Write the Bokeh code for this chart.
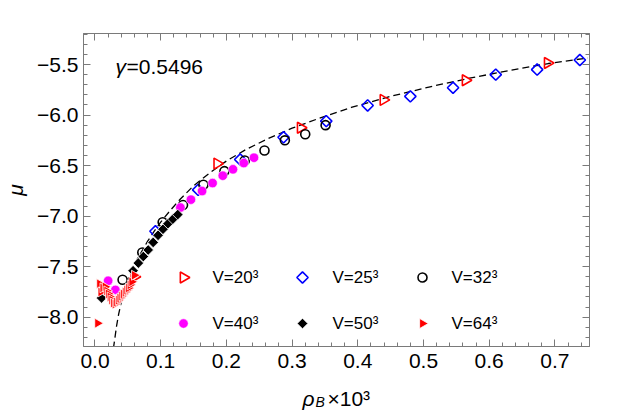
import numpy as np
from bokeh.plotting import figure
from bokeh.layouts import column
from bokeh.models import (Range1d, LinearAxis, SingleIntervalTicker, CustomJSTickFormatter, Label)
from bokeh.embed import file_html
from bokeh.resources import INLINE

# ---------------- data ----------------
fit_rho = [0.028, 0.030, 0.033, 0.036, 0.040, 0.045, 0.050, 0.056, 0.063, 0.071, 0.080, 0.090,
           0.100, 0.115, 0.130, 0.150, 0.175, 0.200, 0.230, 0.265, 0.300, 0.340, 0.390, 0.450,
           0.510, 0.570, 0.630, 0.690, 0.750]
fit_mu = [-8.31, -8.22, -8.08, -7.97, -7.85, -7.73, -7.63, -7.535, -7.44, -7.35, -7.25, -7.15,
          -7.06, -6.94, -6.83, -6.70, -6.57, -6.455, -6.34, -6.228, -6.13, -6.035, -5.925, -5.815,
          -5.72, -5.635, -5.56, -5.49, -5.435]

v20_rho = [0.060, 0.186, 0.313, 0.439, 0.564, 0.689]
v20_mu = [-7.60, -6.48, -6.125, -5.85, -5.655, -5.485]

v25_rho = [0.092, 0.157, 0.221, 0.287, 0.352, 0.415, 0.480, 0.545, 0.610, 0.673, 0.738]
v25_mu = [-7.15, -6.74, -6.44, -6.22, -6.06, -5.905, -5.815, -5.73, -5.60, -5.55, -5.455]

v32_rho = [0.042, 0.072, 0.103, 0.134, 0.165, 0.197, 0.228, 0.258, 0.289, 0.320, 0.351]
v32_mu = [-7.63, -7.36, -7.06, -6.89, -6.69, -6.555, -6.45, -6.35, -6.25, -6.19, -6.10]

v40_rho = [0.020, 0.031, 0.130, 0.146, 0.163, 0.179, 0.1945, 0.210, 0.2265, 0.242]
v40_mu = [-7.64, -7.73, -6.915, -6.837, -6.752, -6.673, -6.60, -6.537, -6.475, -6.422]

v50_rho = [0.010, 0.058, 0.066, 0.0735, 0.081, 0.0885, 0.096, 0.1035, 0.111, 0.1185, 0.126]
v50_mu = [-7.81, -7.54, -7.465, -7.40, -7.335, -7.26, -7.19, -7.13, -7.075, -7.03, -6.985]

v64_rho = [0.004, 0.007, 0.009, 0.012, 0.0155, 0.018, 0.0205, 0.023, 0.0256, 0.028, 0.0307,
           0.033, 0.0358, 0.038, 0.0408, 0.043, 0.046, 0.0485, 0.051, 0.0535, 0.056, 0.060]
v64_mu = [-8.06, -7.67, -7.75, -7.71, -7.70, -7.74, -7.77, -7.80, -7.83, -7.86, -7.87,
          -7.85, -7.83, -7.81, -7.79, -7.77, -7.75, -7.73, -7.71, -7.68, -7.65, -7.585]

legend_labels = ["V=20³", "V=25³", "V=32³", "V=40³", "V=50³", "V=64³"]
gamma_label = "γ"
gamma_value = "=0.5496"
x_ticks_interval = 0.1
y_ticks_interval = 0.5

# ---------------- layout constants (pixels) ----------------
W = 622
H_MAIN = 380
H_LAB = 34
FL, FT, FR, FB = 83, 33, 589, 346      # frame edges in page pixels
X0, X1 = -0.0175, 0.7527
Y0, Y1 = -8.29, -5.193
GRAY = "#7a7a7a"
FONT = "Liberation Sans"


def px2x(px):
    return X0 + (px - FL) * (X1 - X0) / (FR - FL)


def py2y(py):
    return Y1 - (py - FT) * (Y1 - Y0) / (FB - FT)


fig = figure(width=W, height=H_MAIN, output_backend="svg", toolbar_location=None,
             x_range=Range1d(X0, X1), y_range=Range1d(Y0, Y1),
             x_axis_location=None, y_axis_location=None,
             min_border_left=FL, min_border_right=W - FR, min_border_top=FT,
             min_border_bottom=H_MAIN - FB)
fig.xgrid.visible = False
fig.ygrid.visible = False
fig.outline_line_color = GRAY
fig.background_fill_color = "white"
fig.border_fill_color = "white"

fmt_code = """
var v = Math.abs(tick) < 1e-9 ? 0 : tick;
return v.toFixed(1).replace('-', '\u2212');
"""


def make_axis(interval, labels):
    return LinearAxis(ticker=SingleIntervalTicker(interval=interval, num_minor_ticks=5),
                      formatter=CustomJSTickFormatter(code=fmt_code if labels else "return '';"),
                      axis_line_color=GRAY, major_tick_line_color=GRAY, minor_tick_line_color=GRAY,
                      major_tick_in=7, major_tick_out=0, minor_tick_in=4, minor_tick_out=0,
                      major_label_text_font=FONT, major_label_text_font_size="21px",
                      major_label_text_color="black")


xb = make_axis(x_ticks_interval, True)
xb.major_label_standoff = 7
yl = make_axis(y_ticks_interval, True)
yl.major_label_standoff = 5
yl.axis_label = "μ"
yl.axis_label_text_font = FONT
yl.axis_label_text_font_size = "21px"
yl.axis_label_text_font_style = "italic"
yl.axis_label_text_color = "black"
yl.axis_label_standoff = 7
xt = make_axis(x_ticks_interval, False)
xt.major_label_standoff = 0
yr = make_axis(y_ticks_interval, False)
yr.major_label_standoff = 0
fig.add_layout(xb, "below")
fig.add_layout(yl, "left")
fig.add_layout(xt, "above")
fig.add_layout(yr, "right")

# fitted curve
fig.line(fit_rho, fit_mu, line_color="black", line_width=1.3, line_dash="7 4")

# marker styles per series
styles = [
    dict(marker="triangle", size=11, angle=-np.pi / 2, fill_color=None, line_color="#ff0000", line_width=1.6),
    dict(marker="square", size=8, angle=np.pi / 4, fill_color=None, line_color="#0000ff", line_width=1.6),
    dict(marker="circle", size=9, angle=0, fill_color=None, line_color="black", line_width=1.6),
    dict(marker="circle", size=9.5, angle=0, fill_color="#ff00ff", line_color="white", line_width=0.6),
    dict(marker="square", size=7.5, angle=np.pi / 4, fill_color="black", line_color="white", line_width=0.8),
    dict(marker="triangle", size=10, angle=-np.pi / 2, fill_color="#ff0000", line_color="white", line_width=0.8),
]
series = [(v20_rho, v20_mu), (v25_rho, v25_mu), (v32_rho, v32_mu),
          (v40_rho, v40_mu), (v50_rho, v50_mu), (v64_rho, v64_mu)]
for (xs, ys), st in zip(series, styles):
    fig.scatter(xs, ys, **st)

# legend (2 rows x 3 columns) drawn inside the frame
leg_marker_px = [183, 302, 422]
leg_text_px = [212, 332, 451]
leg_row_py = [277, 323]
for i, (lab_text, st) in enumerate(zip(legend_labels, styles)):
    r, c = divmod(i, 3)
    fig.scatter([px2x(leg_marker_px[c])], [py2y(leg_row_py[r])], **st)
    fig.add_layout(Label(x=X0, y=Y0, x_offset=leg_text_px[c] - FL, y_offset=FB - leg_row_py[r],
                         text=lab_text, text_font=FONT, text_font_size="17px",
                         text_baseline="middle", text_align="left", text_color="black"))

# gamma annotation
fig.add_layout(Label(x=X0, y=Y1, x_offset=32, y_offset=-33, text=gamma_label,
                     text_font=FONT, text_font_size="21px", text_font_style="italic",
                     text_baseline="middle", text_align="left", text_color="black"))
fig.add_layout(Label(x=X0, y=Y1, x_offset=43, y_offset=-33, text=gamma_value,
                     text_font=FONT, text_font_size="21px",
                     text_baseline="middle", text_align="left", text_color="black"))

# x-axis title strip (below the main figure; its frame is aligned with the main frame)
lab = figure(width=W, height=H_LAB, output_backend="svg", toolbar_location=None, title=None,
             x_range=Range1d(FL, FR), y_range=Range1d(0, H_LAB),
             x_axis_location=None, y_axis_location=None, min_border=0)
lab.xgrid.visible = False
lab.ygrid.visible = False
lab.outline_line_color = None
lab.background_fill_color = "white"
lab.border_fill_color = "white"
base = 16   # baseline height inside the strip (from its bottom)
lab.add_layout(Label(x=302, y=base, text="ρ", text_font=FONT, text_font_size="21px",
                     text_font_style="italic", text_baseline="alphabetic", text_color="black"))
lab.add_layout(Label(x=315, y=base - 3, text="B", text_font=FONT, text_font_size="14px",
                     text_font_style="italic", text_baseline="alphabetic", text_color="black"))
lab.add_layout(Label(x=327, y=base, text="×10³", text_font=FONT, text_font_size="21px",
                     text_baseline="alphabetic", text_color="black"))

p = column(fig, lab, spacing=0)
open("out.html", "w").write(file_html(p, INLINE))
